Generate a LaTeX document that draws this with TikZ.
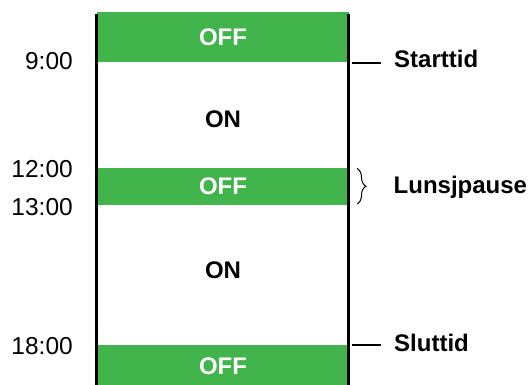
\documentclass[tikz,border=0pt]{standalone}
\usepackage{fontspec}
\setmainfont{Liberation Sans}
\usetikzlibrary{decorations.pathreplacing}
\definecolor{offgreen}{RGB}{65,180,75}
\begin{document}
\begin{tikzpicture}[x=1pt,y=-1pt,
  lbl/.style={inner sep=0pt,text height=17.2pt,text depth=0pt,font=\fontsize{24.5}{28}\selectfont},
  blbl/.style={lbl,font=\fontsize{24}{28}\selectfont\bfseries},
  band/.style={fill=offgreen,draw=none},
  rail/.style={line width=2.5pt},
  tick/.style={line width=1.2pt}]
\useasboundingbox (0,0) rectangle (528,385);
% green OFF bands
\fill[band] (96.5,12) rectangle (348.5,62.5);
\fill[band] (96.5,168.3) rectangle (348.5,205);
\fill[band] (96.5,345) rectangle (348.5,385);
% rails
\coordinate (lt) at (96.5,14);
\coordinate (lb) at (96.5,385);
\coordinate (rt) at (348.5,14);
\coordinate (rb) at (348.5,385);
\draw[rail] (lt) -- (lb);
\draw[rail] (rt) -- (rb);
% band labels
\node[blbl,text=white] (off1) at (223,36.5) {OFF};
\node[blbl] (on1) at (223,119) {ON};
\node[blbl,text=white] (off2) at (223,186) {OFF};
\node[blbl] (on2) at (223,270) {ON};
\node[blbl,text=white] (off3) at (223,366) {OFF};
% times
\node[lbl,anchor=east] (t9) at (73,61) {9:00};
\node[lbl,anchor=east] (t12) at (73,169) {12:00};
\node[lbl,anchor=east] (t13) at (73,207) {13:00};
\node[lbl,anchor=east] (t18) at (73,346) {18:00};
% right labels
\node[blbl,anchor=west] (start) at (394,59) {Starttid};
\node[blbl,anchor=west] (lunsj) at (393.5,185) {Lunsjpause};
\node[blbl,anchor=west] (slutt) at (394,343) {Sluttid};
\coordinate (s1) at (351.5,63);
\coordinate (s2) at (380.5,63);
\coordinate (e1) at (351.5,345);
\coordinate (e2) at (380.5,345);
\draw[tick] (s1) -- (s2);
\draw[tick] (e1) -- (e2);
\coordinate (b1) at (357,168.5);
\coordinate (b2) at (357,204);
\draw[line width=1pt,decorate,decoration={brace,amplitude=9pt}] (b1) -- (b2);
\end{tikzpicture}
\end{document}
